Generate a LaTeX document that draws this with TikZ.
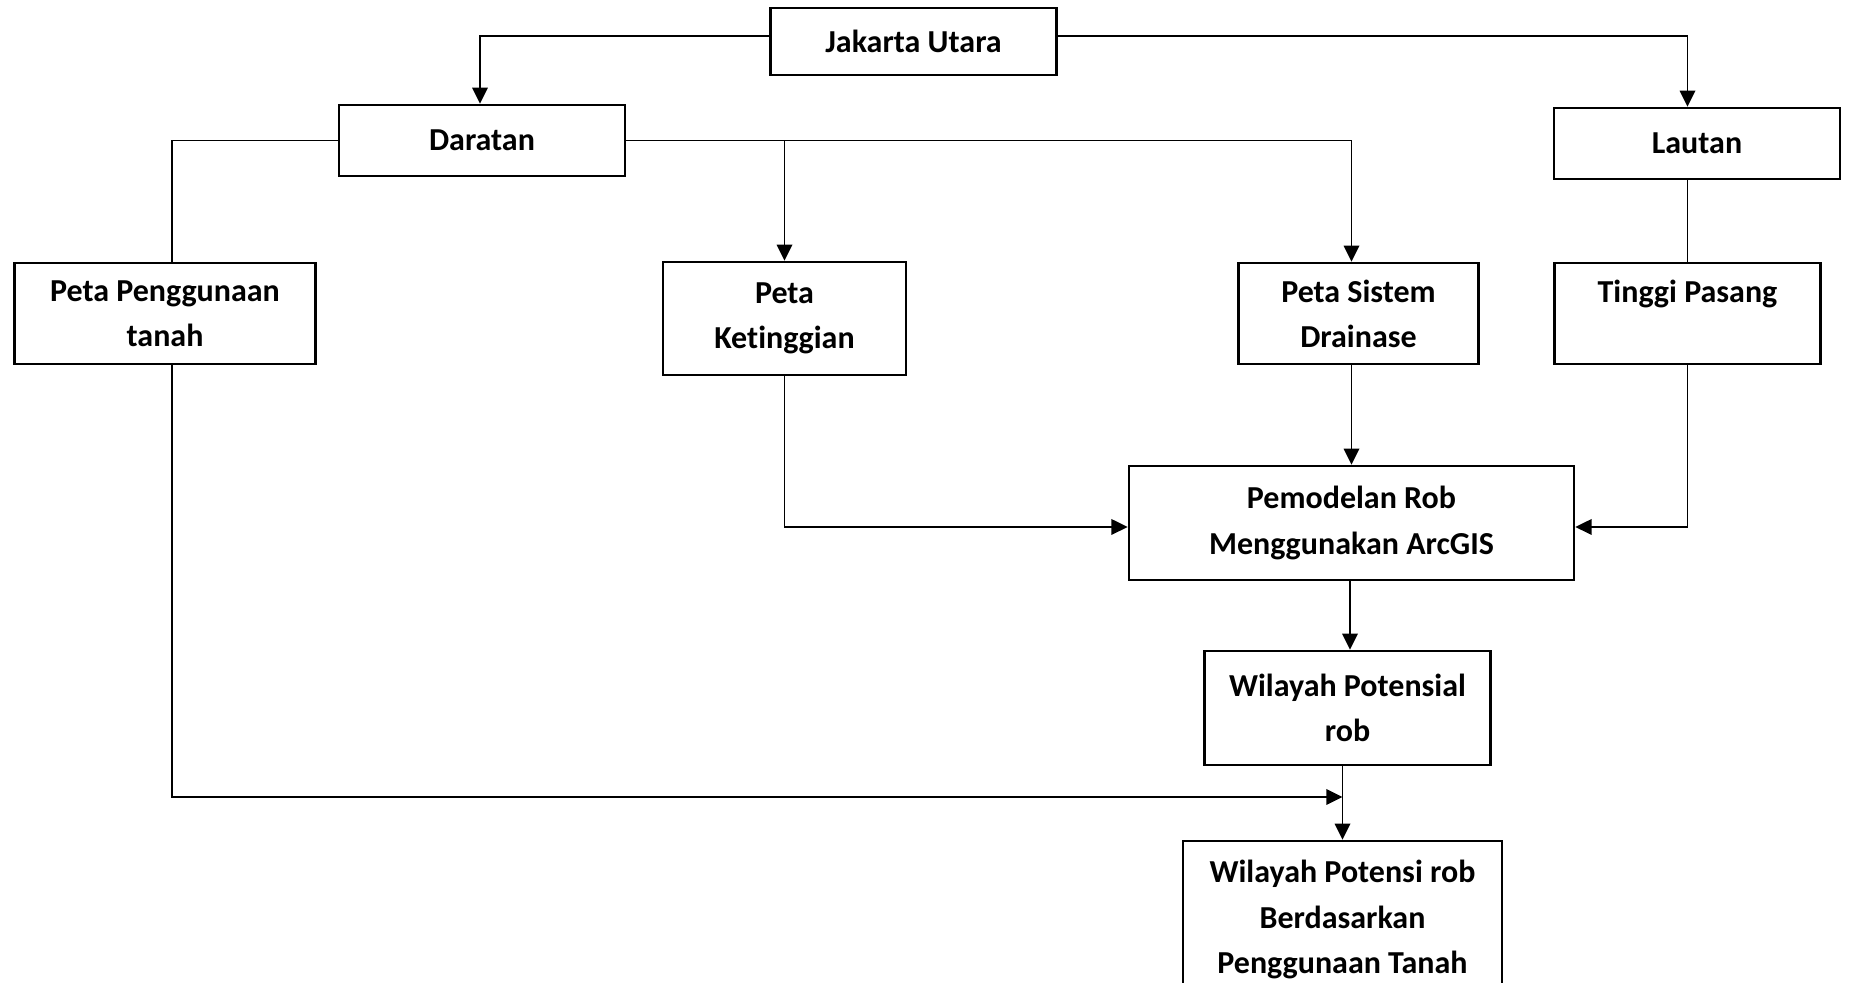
\documentclass[tikz,border=0pt]{standalone}
\usepackage{fontspec}
\setmainfont{Carlito}[Ligatures={NoCommon}]
\usetikzlibrary{arrows.meta}

\begin{document}
\begin{tikzpicture}[x=0.01cm, y=-0.01cm]
    \tikzstyle{kotak} = [rectangle, draw, line width=0.7pt, align=center, inner sep=0pt, font=\fontsize{9.1}{12.8}\selectfont\bfseries]
    \tikzstyle{garis} = [line width=0.55pt]
    \tikzstyle{arrow} = [garis, -{Triangle[length=4.6pt, width=4.4pt]}]

    \useasboundingbox (0,0) rectangle (1850,983);

    \node (jakarta) [kotak, minimum width=2.86cm, minimum height=0.67cm] at (913.5,41.5) {Jakarta Utara};
    \node (daratan) [kotak, minimum width=2.86cm, minimum height=0.71cm] at (482,140.5) {Daratan};
    \node (lautan) [kotak, minimum width=2.86cm, minimum height=0.71cm] at (1697,143.5) {Lautan};
    \node (penggunaan) [kotak, minimum width=3.01cm, minimum height=1.01cm] at (165,313.5) {Peta Penggunaan\\tanah};
    \node (ketinggian) [kotak, minimum width=2.43cm, minimum height=1.13cm] at (784.5,318.5) {Peta\\Ketinggian};
    \node (drainase) [kotak, minimum width=2.40cm, minimum height=1.01cm] at (1358.5,313.5) {Peta Sistem\\Drainase};
    \node (tinggi) [kotak, minimum width=2.66cm, minimum height=1.01cm] at (1687.5,313.5) {Tinggi Pasang\\~};
    \node (pemodelan) [kotak, minimum width=4.45cm, minimum height=1.14cm] at (1351.5,523) {Pemodelan Rob\\Menggunakan ArcGIS};
    \node (potensial) [kotak, minimum width=2.86cm, minimum height=1.14cm] at (1347.5,708) {Wilayah Potensial\\rob};
    \node (potensi) [kotak, minimum width=3.19cm, minimum height=1.57cm] at (1342.5,919.5) {Wilayah Potensi rob\\Berdasarkan\\Penggunaan Tanah};

    \coordinate (cabang) at (ketinggian.north |- daratan.east);
    \coordinate (gabung) at (potensi.north |- 0,797);

    \draw [arrow] ([yshift=0.055cm]jakarta.west) -| ([xshift=-0.02cm]daratan.north);
    \draw [arrow] ([yshift=0.055cm]jakarta.east) -| (tinggi.north |- lautan.north);
    \draw [garis] (daratan.west) -| ([xshift=0.07cm]penggunaan.north);
    \draw [arrow] (daratan.east) -| (pemodelan.north |- drainase.north);
    \draw [arrow] (cabang) -- (ketinggian.north);
    \draw [garis] (tinggi.north |- lautan.south) -- (tinggi.north);
    \draw [arrow] ([xshift=0.07cm]penggunaan.south) |- (gabung);
    \draw [arrow] (ketinggian.south) |- ([yshift=-0.04cm]pemodelan.west);
    \draw [arrow] (pemodelan.north |- drainase.south) -- (pemodelan.north);
    \draw [arrow] (tinggi.south) |- ([yshift=-0.04cm]pemodelan.east);
    \draw [arrow] ([xshift=-0.015cm]pemodelan.south) -- ([xshift=-0.015cm]pemodelan.south |- potensial.north);
    \draw [arrow] (potensi.north |- potensial.south) -- (potensi.north);
\end{tikzpicture}
\end{document}
